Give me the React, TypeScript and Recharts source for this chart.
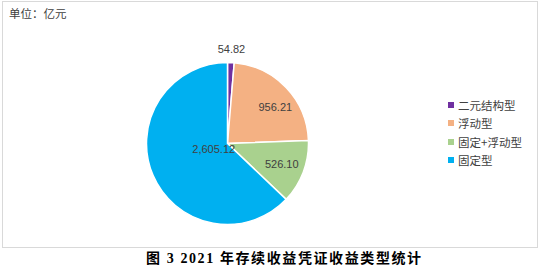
import React from 'react';
import { PieChart, Pie, Cell, Legend } from 'recharts';

const categories = ['二元结构型', '浮动型', '固定+浮动型', '固定型'];
const values = [54.82, 956.21, 526.1, 2605.12];
const valueLabels = ['54.82', '956.21', '526.10', '2,605.12'];
const colors = ['#7030A0', '#F4B183', '#A9D18E', '#00B0F0'];

const labelRadius = [95, 60, 58, 15];
const labelAngleNudge = [0, -6.5, 0, 0];

const data = categories.map((name, i) => ({ name, value: values[i], label: valueLabels[i] }));

const RAD = Math.PI / 180;

const renderLabel = (props: any) => {
  const { cx, cy, midAngle, index } = props;
  const a = (midAngle + labelAngleNudge[index]) * RAD;
  const r = labelRadius[index];
  const x = cx + r * Math.cos(-a);
  const y = cy + r * Math.sin(-a);
  return (
    <text
      x={x}
      y={y}
      textAnchor="middle"
      dominantBaseline="central"
      fill="#404040"
      fontSize={11}
      fontFamily="'Liberation Sans', Arial, sans-serif"
    >
      {valueLabels[index]}
    </text>
  );
};

const renderLegend = (props: any) => {
  const payload = [...(props.payload || [])].sort(
    (a: any, b: any) => categories.indexOf(a.value) - categories.indexOf(b.value)
  );
  return (
    <div style={{ display: 'flex', flexDirection: 'column' }}>
      {payload.map((p: any, i: number) => (
        <div key={i} style={{ display: 'flex', alignItems: 'center', height: 18.3 }}>
          <span style={{ display: 'inline-block', width: 6, height: 6, background: p.color, marginRight: 4 }} />
          <span style={{ fontSize: 11.5, color: '#404040', fontFamily: "'Noto Sans CJK SC', sans-serif", lineHeight: '18px' }}>
            {p.value}
          </span>
        </div>
      ))}
    </div>
  );
};

export default function App() {
  return (
    <div style={{ position: 'absolute', left: 0, top: 0, width: 541, height: 271, background: '#fff' }}>
      <div
        style={{
          position: 'absolute',
          left: 2,
          top: 1,
          width: 534,
          height: 245,
          border: '1px solid #D9D9D9',
        }}
      />
      <div
        style={{
          position: 'absolute',
          left: 9,
          top: 5,
          fontSize: 11.5,
          color: '#404040',
          fontFamily: "'Noto Sans CJK SC', sans-serif",
          lineHeight: '16px',
        }}
      >
        单位：亿元
      </div>
      <div style={{ position: 'absolute', left: 0, top: 0 }}>
        <PieChart width={541} height={250}>
          <Pie
            data={data}
            dataKey="value"
            nameKey="name"
            cx={222.5}
            cy={138.5}
            outerRadius={81}
            startAngle={90}
            endAngle={-270}
            stroke="#ffffff"
            strokeWidth={1.5}
            label={renderLabel}
            labelLine={false}
            isAnimationActive={false}
          >
            {data.map((d, i) => (
              <Cell key={d.name} fill={colors[i]} />
            ))}
          </Pie>
          <Legend
            layout="vertical"
            content={renderLegend}
            wrapperStyle={{ position: 'absolute', left: 448, top: 96, width: 90 }}
          />
        </PieChart>
      </div>
      <div
        style={{
          position: 'absolute',
          left: 146,
          top: 249,
          whiteSpace: 'nowrap',
          fontSize: 14,
          fontWeight: 'bold',
          letterSpacing: 1.6,
          fontFamily: "'Times New Roman', 'Liberation Serif', 'Noto Sans CJK SC', serif",
          lineHeight: '20px',
          color: '#000',
        }}
      >
        图 3 2021 年存续收益凭证收益类型统计
      </div>
    </div>
  );
}
